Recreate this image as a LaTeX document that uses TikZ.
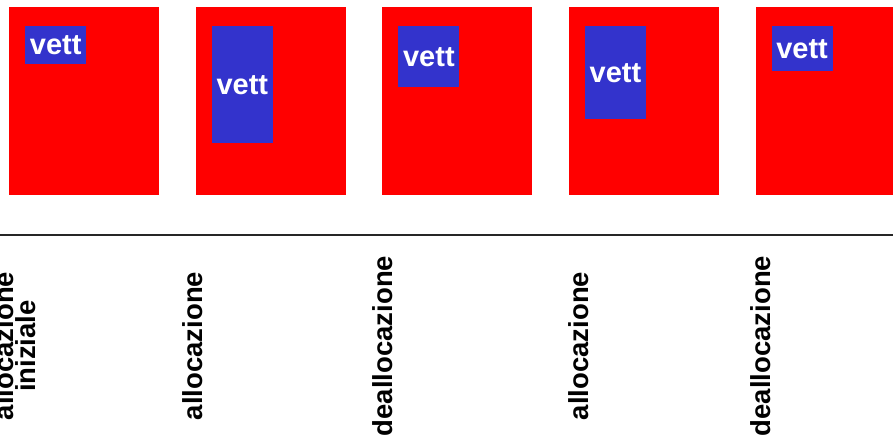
\documentclass[tikz,border=0pt]{standalone}
\usepackage{fontspec}
\setmainfont{Liberation Sans}
\usetikzlibrary{positioning}
\definecolor{rosso}{RGB}{255,0,0}
\definecolor{blu}{RGB}{51,51,204}

\begin{document}
\begin{tikzpicture}[x=1pt,y=-1pt,node distance=36.2pt,
  mem/.style={fill=rosso,minimum width=150pt,minimum height=188pt,inner sep=0pt},
  vett/.style={fill=blu,text=white,minimum width=61pt,inner sep=0pt,
    font=\bfseries\fontsize{29}{29}\selectfont},
  fase/.style={rotate=90,inner sep=0pt,align=center,
    font=\bfseries\fontsize{27.5}{22}\selectfont}]
  \useasboundingbox (0,0) rectangle (893,437);
  \clip (0,0) rectangle (893,437);
  % memoria (heap) nei vari istanti
  \node[mem,anchor=north west] (m1) at (9,7) {};
  \node[mem,right=of m1] (m2) {};
  \node[mem,right=of m2] (m3) {};
  \node[mem,right=of m3] (m4) {};
  \node[mem,right=of m4] (m5) {};
  % blocco vett
  \node[vett,minimum height=38pt,below right=19pt and 16pt of m1.north west] (v1) {vett};
  \node[vett,minimum height=117pt,below right=19pt and 16pt of m2.north west] (v2) {vett};
  \node[vett,minimum height=61pt,below right=19pt and 16pt of m3.north west] (v3) {vett};
  \node[vett,minimum height=93pt,below right=19pt and 16pt of m4.north west] (v4) {vett};
  \node[vett,minimum height=45pt,below right=19pt and 16pt of m5.north west] (v5) {vett};
  % asse dei tempi
  \coordinate (t0) at (0,235);
  \coordinate (t1) at (893,235);
  \draw[line width=1.2pt,black!85] (t0) -- (t1);
  % operazioni
  \node[fase] (f1) at (14.5,346) {allocazione\\iniziale};
  \node[fase,anchor=base] (f2) at (202,346) {allocazione};
  \node[fase,anchor=base] (f3) at (392,346) {deallocazione};
  \node[fase,anchor=base] (f4) at (588,346) {allocazione};
  \node[fase,anchor=base] (f5) at (770,346) {deallocazione};
\end{tikzpicture}
\end{document}
